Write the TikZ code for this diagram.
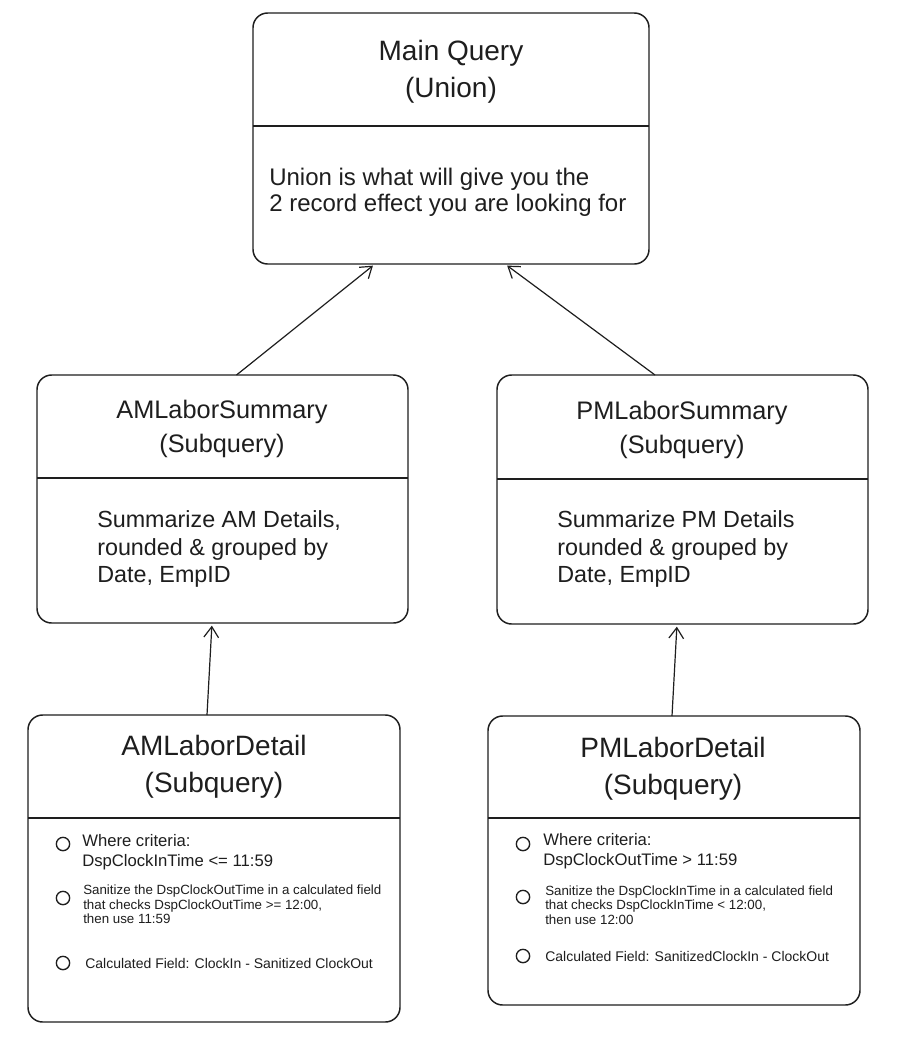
\documentclass[tikz,border=0pt]{standalone}
\usepackage{fontspec}
\setmainfont{Liberation Sans}
\usetikzlibrary{arrows.meta,calc}
\definecolor{ink}{HTML}{1E1E1E}
\tikzset{
  box/.style={draw=ink, line width=1.1pt, rounded corners=11pt, inner sep=0pt, outer sep=0pt},
  divider/.style={draw=ink, line width=1.1pt},
  conn/.style={draw=ink, line width=0.9pt, -{Straight Barb[length=8pt,width=11pt]}, shorten >=2pt},
  maintitle/.style={align=center, text=ink, font=\fontsize{21}{27.75}\selectfont},
  subtitle/.style={align=center, text=ink, font=\fontsize{19}{25.5}\selectfont},
  bigbody/.style={align=left, anchor=west, text=ink, inner sep=0pt, font=\fontsize{18}{19.5}\selectfont},
  midbody/.style={align=left, anchor=west, text=ink, inner sep=0pt, font=\fontsize{17.5}{20.6}\selectfont},
  itemA/.style={align=left, anchor=west, text=ink, inner sep=0pt, font=\fontsize{12.5}{15}\selectfont},
  itemB/.style={align=left, anchor=west, text=ink, inner sep=0pt, font=\fontsize{10}{10.9}\selectfont},
  itemC/.style={align=left, anchor=west, text=ink, inner sep=0pt, font=\fontsize{10.5}{12}\selectfont},
  bullet/.style={draw=ink, line width=1pt, circle, minimum size=10pt, inner sep=0pt},
}
\begin{document}
\begin{tikzpicture}[x=0.75pt, y=-0.75pt]
\path[fill=white] (0,0) rectangle (908,1046);
\useasboundingbox (0,0) rectangle (908,1046);

% boxes
\node[box, minimum width={396*0.75pt}, minimum height={251*0.75pt}] (main) at (451,138.5) {};
\node[box, minimum width={371*0.75pt}, minimum height={248*0.75pt}] (amsum) at (222.5,499) {};
\node[box, minimum width={371*0.75pt}, minimum height={249*0.75pt}] (pmsum) at (682.5,499.5) {};
\node[box, minimum width={372*0.75pt}, minimum height={307*0.75pt}] (amdet) at (214,868.5) {};
\node[box, minimum width={372*0.75pt}, minimum height={289*0.75pt}] (pmdet) at (674,860.5) {};

% dividers
\draw[divider] (main.west |- 0,126) -- (main.east |- 0,126);
\draw[divider] (amsum.west |- 0,478) -- (amsum.east |- 0,478);
\draw[divider] (pmsum.west |- 0,479) -- (pmsum.east |- 0,479);
\draw[divider] (amdet.west |- 0,818) -- (amdet.east |- 0,818);
\draw[divider] (pmdet.west |- 0,818) -- (pmdet.east |- 0,818);

% titles
\node[maintitle] (maint) at (451,71.5) {Main Query\\(Union)};
\node[subtitle] (amsumt) at (222,429) {AMLaborSummary\\(Subquery)};
\node[subtitle] (pmsumt) at (682,430) {PMLaborSummary\\(Subquery)};
\node[maintitle] (amdett) at (214,766.5) {AMLaborDetail\\(Subquery)};
\node[maintitle] (pmdett) at (673,768.5) {PMLaborDetail\\(Subquery)};

% bodies
\node[bigbody] (mainb) at (269,192) {Union is what will give you the\\2 record effect you are looking for};
\node[midbody] (amsumb) at (97,549) {Summarize AM Details,\\rounded \& grouped by\\Date, EmpID};
\node[midbody] (pmsumb) at (557,549) {Summarize PM Details\\rounded \& grouped by\\Date, EmpID};

% AM detail items
\node[bullet] (ab1) at (63,844) {};
\node[itemA] (at1) at (82,852) {Where criteria:\\DspClockInTime <= 11:59};
\node[bullet] (ab2) at (63,898) {};
\node[itemB] (at2) at (83,904.5) {Sanitize the DspClockOutTime in a calculated field\\that checks DspClockOutTime >= 12:00,\\then use 11:59};
\node[bullet] (ab3) at (63,963) {};
\node[itemC] (at3) at (85,963) {Calculated Field: ClockIn - Sanitized ClockOut};

% PM detail items
\node[bullet] (pb1) at (523,844) {};
\node[itemA] (pt1) at (543,851) {Where criteria:\\DspClockOutTime > 11:59};
\node[bullet] (pb2) at (523,897) {};
\node[itemB] (pt2) at (545,905) {Sanitize the DspClockInTime in a calculated field\\that checks DspClockInTime < 12:00,\\then use 12:00};
\node[bullet] (pb3) at (523,956) {};
\node[itemC] (pt3) at (545,956) {Calculated Field: SanitizedClockIn - ClockOut};

% connectors
\draw[conn] ($(amsum.north)+(14,0)$) -- ($(main.south)+(-76,0)$);
\draw[conn] ($(pmsum.north)+(-27.5,0)$) -- ($(main.south)+(54,0)$);
\draw[conn] ($(amdet.north)+(-7,0)$) -- ($(amsum.south)+(-10.5,0)$);
\draw[conn] ($(pmdet.north)+(-2,0)$) -- ($(pmsum.south)+(-5.5,0)$);
\end{tikzpicture}
\end{document}
